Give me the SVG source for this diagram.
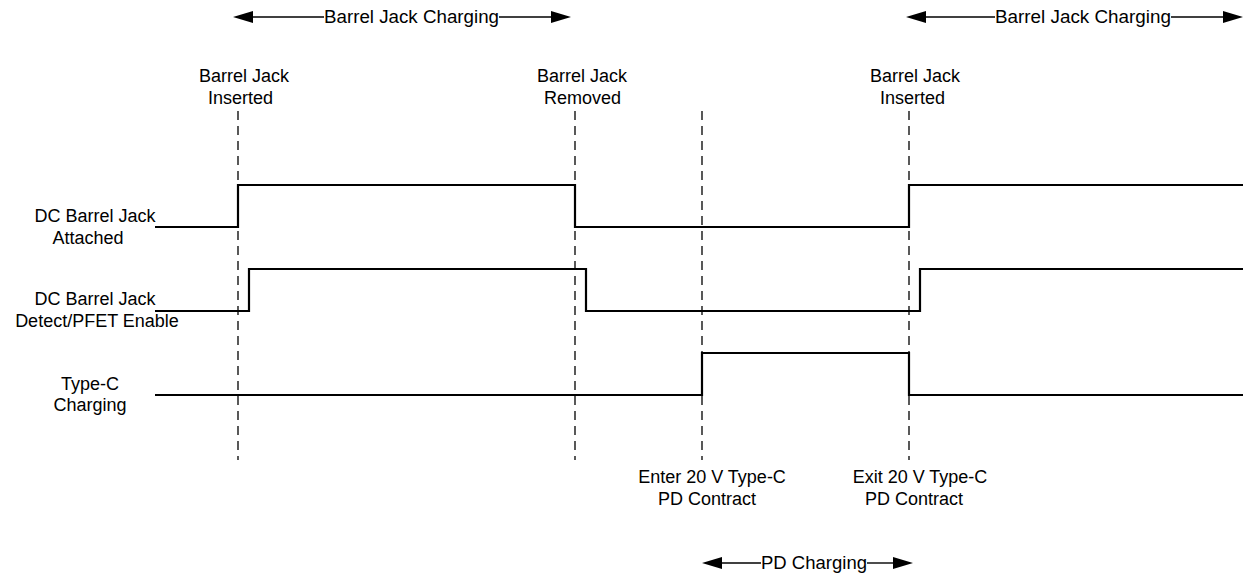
<svg xmlns="http://www.w3.org/2000/svg" width="1243" height="577" viewBox="0 0 1243 577">
<style>
  text { font-family: "Liberation Sans", Arial, sans-serif; font-size: 18px; fill: #000; }
  .m { text-anchor: middle; }
  .big { font-size: 18.7px; }
  .sig { fill: none; stroke: #000; stroke-width: 2.2; }
  .dash { fill: none; stroke: #000; stroke-width: 1.3; stroke-dasharray: 9 6; }
  .arr { fill: none; stroke: #000; stroke-width: 1.4; }
  .head { fill: #000; }
</style>
<rect width="1243" height="577" fill="#fff"/>

<g id="markers">
  <line class="dash" x1="238" y1="111" x2="238" y2="460"/>
  <line class="dash" x1="575" y1="111" x2="575" y2="460"/>
  <line class="dash" x1="702" y1="111" x2="702" y2="460"/>
  <line class="dash" x1="909" y1="111" x2="909" y2="460"/>
</g>

<g id="label-inserted-1">
  <text class="m" x="244" y="82">Barrel Jack</text>
  <text class="m" x="240.5" y="104">Inserted</text>
</g>
<g id="label-removed">
  <text class="m" x="582" y="82">Barrel Jack</text>
  <text class="m" x="582.5" y="104">Removed</text>
</g>
<g id="label-inserted-2">
  <text class="m" x="915" y="82">Barrel Jack</text>
  <text class="m" x="912.5" y="104">Inserted</text>
</g>

<g id="sig-attached">
  <text class="m" x="95" y="222">DC Barrel Jack</text>
  <text class="m" x="88" y="244">Attached</text>
</g>
<g id="sig-detect">
  <text class="m" x="95" y="305">DC Barrel Jack</text>
  <text class="m" x="97" y="327">Detect/PFET Enable</text>
</g>
<g id="sig-typec">
  <text class="m" x="90" y="390">Type-C</text>
  <text class="m" x="90" y="411">Charging</text>
</g>

<g id="label-enter">
  <text class="m" x="712" y="483">Enter 20 V Type-C</text>
  <text class="m" x="707" y="505">PD Contract</text>
</g>
<g id="label-exit">
  <text class="m" x="920" y="483">Exit 20 V Type-C</text>
  <text class="m" x="914" y="505">PD Contract</text>
</g>

<g id="connectors">
  <polyline class="sig" points="155,227 238,227 238,185 575,185 575,227 909,227 909,185 1243,185"/>
  <polyline class="sig" points="155,311 249,311 249,269 586,269 586,311 920,311 920,269 1243,269"/>
  <polyline class="sig" points="155,395 702,395 702,353 909,353 909,395 1243,395"/>

  <line class="arr" x1="250" y1="17" x2="324" y2="17"/>
  <line class="arr" x1="499" y1="17" x2="553" y2="17"/>
  <polygon class="head" points="233,17 253,11 253,23"/>
  <polygon class="head" points="571,17 551,11 551,23"/>

  <line class="arr" x1="924" y1="17" x2="995" y2="17"/>
  <line class="arr" x1="1171" y1="17" x2="1225" y2="17"/>
  <polygon class="head" points="906,17 926,11 926,23"/>
  <polygon class="head" points="1243,17 1223,11 1223,23"/>

  <line class="arr" x1="720" y1="563" x2="761" y2="563"/>
  <line class="arr" x1="867" y1="563" x2="894" y2="563"/>
  <polygon class="head" points="702,563 722,557 722,569"/>
  <polygon class="head" points="913,563 893,557 893,569"/>
</g>

<g id="arrow-labels">
  <text class="big" x="324" y="23" textLength="175" lengthAdjust="spacingAndGlyphs">Barrel Jack Charging</text>
  <text class="big" x="995" y="23" textLength="176" lengthAdjust="spacingAndGlyphs">Barrel Jack Charging</text>
  <text class="big" x="761" y="569" textLength="106" lengthAdjust="spacingAndGlyphs">PD Charging</text>
</g>
</svg>
